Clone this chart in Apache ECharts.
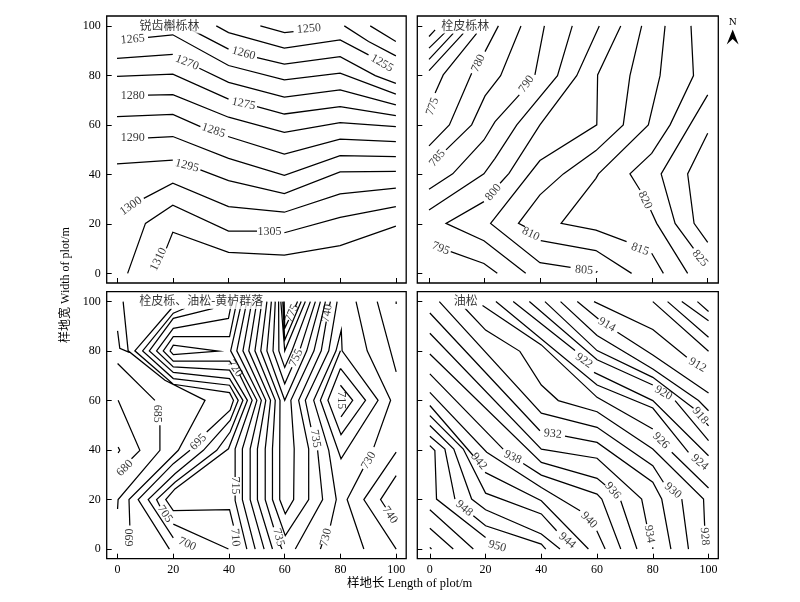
<!DOCTYPE html>
<html><head><meta charset="utf-8">
<style>html,body{margin:0;padding:0;background:#fff}#c{width:800px;height:602px}</style>
<script src="https://cdn.jsdelivr.net/npm/echarts@6/dist/echarts.min.js"></script>
</head><body><div id="c"></div>
<script>
// Sample-plot tick values
const xTicks=[0,20,40,60,80,100];
const yTicks=[0,20,40,60,80,100];
const panelTitles=['锐齿槲栎林','栓皮栎林','栓皮栎、油松-黄栌群落','油松'];
const xName='样地长 Length of plot/m';
const yName='样地宽 Width of plot/m';

// Contour polylines, flat x,y lists in plot metres
const linesA=[
[51.4,100,60.1,97.3,63.3,97.7],
[90.8,100,100,93.7],
[81.5,100,90.2,93.7,100,87.9],
[35.6,100,40,97.3,60,91,80,94.3,90.2,88.3],
[25.7,99,40,90.6],[50.2,87.2,60,84.6,80,87.6,92.6,79.9,100,76.8],
[11.1,95.4,20,96.4,40,84,60,78.2,80,80.9,100,72.4],
[0,86.9,20,88.5],[29.5,82.9,40,77.2,60,71.2,80,74.1,100,68.1],
[0,79.6,20,80.5,40,70.4],[50.2,67.4,60,64.4,80,67.4,100,63.7],
[11.1,72,20,72.2,40,63.1,60,57,80,60.9,100,59.3],
[0,63.3,20,64.2,29.9,59.3],[39.8,55.3,60,48.2,80,54.2,100,53.2],
[11.1,54.7,20,55.3,40,46.5,60,39.6,80,47.6,100,47.2],
[0,44.2,20,45.8],[29.9,41.8,40,37.5,60,32.2,80,41,100,41.2],
[9.6,30.3,20,36.4,40,27,60,24.7,80,32.1,100,34.4],
[3.8,0,10.2,20.2,20,27.5,40,17.1,50.2,17.1],[60,16.4,80,22.6,100,27],
[17.7,10.1,20,16.6,40,8.5,60,7.4,80,11.2,100,19.1]
];
const linesB=[
[0,95.7,2.2,98.4],[0,91,5.7,97.3],[0,86.5,8.7,97],[0,81.9,12.3,97],
[2.2,72.9,5.1,80.2,17.1,97],
[0,51.5,7.3,60,15.3,80.9],[20.1,89.6,24.9,100],
[6.1,49.9,15.3,60,20.1,71.7,25.7,79.9,33,100],
[0,34,8.5,40.2,19.7,53.9,23.7,61.3,32.4,72.1],[38,80.2,41.4,100],
[0,25.6,19.7,40.2,23.7,46.5,31.5,60,46.1,79.9,51.4,100],
[34.7,0,19.7,13.2,6.1,20.2,19.7,29],[25.5,36.4,28.7,40.4,39.8,60,53,79.9,61.1,100],
[50.8,2.4,39.8,4.3,22.1,20.2,39.8,45.6,60.2,60,60.5,80.2,68.8,100],[59.9,0.3,60.4,0.9],
[72.7,0,59.9,9.2,40.1,13.2],[34.4,18.9,32.1,20.2,39.8,31.7,48.2,40.2,59.9,49.6,69.7,60,72.1,79.9,76.3,100],
[84.1,0,79.9,8.1],[70.9,12.8,59.9,17.5,47.4,20.2,59.9,38.4,60.8,40.2,78.7,60,82.9,79.9,84.7,100],
[92.8,0,81.7,20.2,79.5,25.6],[75.7,33.7,72.1,40.2,79.9,48.5,86.5,60,94.9,79.9,94,100],
[94.9,10.1,88.3,20.2,83.3,40.2,100,72.1],
[100,56.6,92.8,40.2,95.1,20.2,100,12.5],
[7.8,8.8,19.7,4,24.5,0]
];
const linesC=[
[2,100,3.8,80.1,17,68.2,31.4,60.1,21.8,39.9,4.1,20,4.4,9.5],
[0,88.2,0.8,81.1,4.2,79.5],
[0,75,13.4,60.1],[15.2,50,15.2,39.9,0.2,20,0,16.2],
[0.2,60.1,8,39.9,5,36.5],
[0.2,41.2,0.8,39.9,0.2,38.8],
[19.4,97.3,6.2,80.1,20,66.6,40.2,63.2,41.6,60.1,40.4,56.1,32,47.3],[26,39.9,20,34.5,7.4,20,18.6,0],
[24.2,97.3,20,95.3,9,80.1,20,68.9,40.2,66.2,43.3,60.1,40.4,52,30.8,39.9,20.6,30.4,11,20,20,4.5],
[34.4,97.3,20,93.2,11.4,80.1,20,71.4,40.2,68.9,45,60.1,40.4,47.3,35.6,39.9,20.6,27,14,20,15.2,17.3],[20,10.1,39.8,0],
[41,100,39.8,93.2,20,89.2,14,80.1,20,73.6,40.2,72.3,46.6,60.1,39.8,40.5,20.6,24.3,17.3,20,20,15.5,40.2,15.9,41.6,9.5],
[42.8,100,40.2,85.8,20,85.8,16.4,80.1,20,75.9,40.2,75.9,41,74.6],[43.8,70.5,48.3,60.1,42.2,40.5,42.2,29.1],[42.2,21.6,42.2,19.6,46.4,0],
[18.8,80.1,20,82.4,36.2,80,20,78.6,18.8,80.1],
[44.6,100,40.6,80.1,50,60.1,44.8,40.5,44.8,20,49.4,0],
[46.4,100,42.8,80.1,51.6,60.1,47.6,40.5,47.6,20,52.6,0],
[48.2,100,45,80.1,53.2,60.1,50.2,40.5,50.2,20,55.6,0],
[50,100,47.1,80.1,54.9,60.1,53,40.5,53,20,56,8.8],[59,0,58.4,1.5],
[51.8,100,49.3,80.1,56.6,60.1,55.6,40.5,55.6,20,60.2,5.4,68.6,20,68.6,40.5,65,60.1,73.1,80.1,74.9,91.9],[76.1,98.6,76.4,100],
[53.6,100,51.4,80.1,58.3,60.1,58.2,40.5,58.2,20,60.2,14.2,63.2,20,63.4,40.5,62.2,60.1,70.5,80.1,74.6,100],
[55.2,100,53.6,80.1,60,60.1,67.9,80.1,72.8,100],
[56.6,100,55.8,80.1,60,66.8,62.6,73.5],[65.6,81.1,71,100],
[57.8,100,57.9,80.1,60,73.4,62.6,80.1,69.2,100],
[58.6,100,60,80.1,67.4,100],
[59.3,100,60,84.5,65.9,100],
[59.8,100,60,89.2,61.4,92.6],[63.8,98,64.6,100],
[63.8,0,73.6,20,71.8,39.9],[69.4,49.3,67.4,60.1,75.8,80.1,78.8,100],
[72.8,0,73.4,2],[76.4,9.5,78.5,20,75.8,39.9,70.4,60.1,78.4,80.1,80.3,88.5,80.6,80.1,93.5,60.1,80.2,36.5,72.8,60.1,80,80.1],
[80,73,89,60.1,80.2,46.2,75.5,60.1,80,73],
[80,66.2,84.4,60.1,80.2,53.4],
[88.4,0,82.4,20,88.1,32.4],[92,41.2,98,60.1,89.6,80.1,85.6,100],
[100,39.2,88.4,20,100,0],
[100,29.7,94.4,20,96.2,16.9],[99.8,11.5,100,11.2],
[93.2,100,100,71.6],[100,100,100,99]
];
const linesD=[
[96,100,100,96],[90.4,100,100,92.3],[85.3,100,100,85.6],[80,100,100,79.9],
[58.9,100,80,88.7,92.2,77.5],
[52.9,100,60.5,93],[67.3,87.6,80,78.4,100,63.1],
[46.9,100,60,86.3,80,72.8,96.4,60,100,55.9],
[41.3,100,60,80.2,80,69.4,94.6,56.9],[99.2,50.9,100,49.8],
[35.7,100,60,76.5,80,66.3],[88,60,100,43.8],
[29.9,100,52.1,80.2],[58.9,71.4,80,60,100,37.7],
[23.7,100,60,66.3,80,57,92.8,39.1],
[18.9,98.4,40,82.5,60,61.3,80,48.5],[86.8,39.1,100,24.7],
[12.6,97.3,20,88.5,32.3,79.9,40,66.3,46.1,60,60,55.5,80,40.4,98.2,20.2,98.6,9.4],
[3.4,100,40,54.9,60,49.2,80,33.7,83.8,27],[90.4,20.2,92.8,0],
[0,95.4,39.5,47.8],[48.5,45.6,60,43.1,80,27,83.2,20.2,86.5,0],
[0,87.2,40,40.4,60,36.7,76,20.2,77.8,10.1],[80,0.7,80,0],
[0,78.8,40,35,60,28.6,62.9,25.9],[68.5,19.5,74.3,0],
[0,70.8,26.3,40.4],[33.5,34.6,40,29.9,60,22.2,61.7,20.2,68.5,0],
[0,63.3,20.4,39.1,40,24.9,53.9,15.5],[59.9,7.4,62.9,0],
[0,58,15.6,37.7],[19.8,31,40,19.5,56.9,0],
[0,53.9,12,40.4,20,22.6,40,14.2,45.5,7.4],
[0,49.9,8.6,40.4,15,20.2,20,15.9,40,6.1,46.7,0],
[0,45.6,5.4,40.4,9,20.2],[15.6,13.5,20,9.4,40,2,41.6,0],
[0,41.8,1.8,39.8,2.4,20.2,20,4.7],
[0,15.9,15.6,0],[0,8.4,8.4,0],[0,0.7,0.6,0]
];

// Contour labels: level, x, y in plot metres
const labelsA=[[1250,68.8,98.8],[1255,95,84.9],[1260,45.4,88.9],[1265,5.6,94.6],[1270,25.1,85.2],[1275,45.4,68.5],[1280,5.6,71.8],[1285,34.6,57.7],[1290,5.6,54.6],[1295,25.1,43.5],[1300,5,27.2],[1305,54.7,16.6],[1310,14.9,5.7]];
const labelsB=[[775,1.3,67.4],[780,17.7,84.9],[785,3,46.5],[790,35,76.5],[795,4.2,10.1],[800,23.1,32.7],[805,55.6,1.3],[810,36.5,15.9],[815,75.7,9.7],[820,77.5,29.6],[825,97.2,6.1]];
const labelsC=[[680,2.6,32.7],[685,14.3,54.7],[690,4.4,4.7],[695,29,43.2],[700,25,2],[705,17,14.2],[710,42.2,4.7],[715,42.2,25.7],[720,42.2,73],[735,57.8,4.7],[735,71,44.6],[730,74.8,4.7],[730,90.2,35.8],[740,97.7,13.8],[740,75.2,95.3],[755,64.1,77.3],[775,62.6,95.3],[715,80.2,60.1]];
const labelsD=[[912,96,74.4],[914,63.5,90.6],[918,97,53.9],[920,83.8,63.1],[922,55.3,76.1],[924,96.8,35],[926,82.9,43.8],[928,98.6,5.1],[930,87.2,23.6],[932,44.1,46.5],[934,78.8,6.1],[936,65.6,23.6],[938,29.7,37.1],[940,57.1,11.7],[942,17.6,35.4],[944,49.3,3.4],[948,12.3,16.4],[950,24.2,1.1]];
const anglesA=[5,-30,-15,5,-22,-12,0,-18,0,-15,35,0,65];
const anglesB=[70,65,50,55,-22,50,-5,-25,-20,-65,-50];
const anglesC=[45,-90,90,45,-25,-55,-85,-90,-55,-75,-80,75,60,-55,80,65,65,-90];
const anglesD=[-30,-30,-50,-30,-35,-40,-45,-85,-40,-5,-80,-50,-25,-45,-50,-40,-40,-15];

const SERIF='"Liberation Serif","Noto Sans CJK SC",serif';
const frames=[
 {left:106.7,top:16,width:299.5,height:267,xMin:-3.7,xMax:103.7,yMin:-3.9,yMax:104,tx:7.9},
 {left:417.3,top:16,width:301,height:267,xMin:-4.2,xMax:103.8,yMin:-3.9,yMax:104,tx:4.2},
 {left:106.7,top:291.7,width:299.5,height:267,xMin:-3.9,xMax:103.6,yMin:-3.9,yMax:104,tx:7.6},
 {left:417.3,top:291.7,width:301,height:267,xMin:-4.5,xMax:103.5,yMin:-3.9,yMax:104,tx:8.4}
];
const allLines=[linesA,linesB,linesC,linesD];
const allLabels=[labelsA,labelsB,labelsC,labelsD];
const allAngles=[anglesA,anglesB,anglesC,anglesD];

const grid=[],xAxis=[],yAxis=[],series=[];
frames.forEach((f,i)=>{
  grid.push({left:f.left,top:f.top,width:f.width,height:f.height,show:true,borderColor:'#000',borderWidth:1.3,backgroundColor:'#fff'});
  const common={type:'value',gridIndex:i,splitLine:{show:false},axisLine:{show:false,onZero:false}};
  const lab=show=>({show,color:'#000',fontFamily:SERIF,fontSize:12,hideOverlap:false,showMinLabel:true,showMaxLabel:true});
  xAxis.push({...common,min:f.xMin,max:f.xMax,
    axisTick:{show:true,inside:true,length:5,lineStyle:{color:'#000',width:1},customValues:xTicks},
    axisLabel:{...lab(i>=2),margin:5,customValues:xTicks}});
  yAxis.push({...common,min:f.yMin,max:f.yMax,
    axisTick:{show:true,inside:true,length:5,lineStyle:{color:'#000',width:1},customValues:yTicks},
    axisLabel:{...lab(i%2===0),margin:6,customValues:yTicks}});
  const pts=[];
  allLines[i].forEach(s=>{
    for(let k=0;k<s.length;k+=2) pts.push([s[k],s[k+1]]);
    pts.push(['-','-']);
  });
  series.push({type:'line',xAxisIndex:i,yAxisIndex:i,data:pts,showSymbol:false,symbol:'none',smooth:false,connectNulls:false,
    lineStyle:{color:'#000',width:1.25,join:'miter'},animation:false,silent:true,z:2});
  series.push({type:'scatter',xAxisIndex:i,yAxisIndex:i,symbolSize:1,itemStyle:{color:'rgba(0,0,0,0)'},animation:false,silent:true,z:3,
    data:allLabels[i].map((l,k)=>({value:[l[1],l[2]],name:String(l[0]),
      label:{show:true,position:'inside',rotate:allAngles[i][k],formatter:String(l[0]),color:'#000',fontFamily:SERIF,fontSize:12}}))});
  series.push({type:'scatter',xAxisIndex:i,yAxisIndex:i,symbolSize:1,itemStyle:{color:'rgba(0,0,0,0)'},animation:false,silent:true,z:4,
    data:[{value:[f.tx,99.8],label:{show:true,position:'right',distance:0,formatter:panelTitles[i],color:'#000',fontFamily:SERIF,fontSize:12,backgroundColor:'#fff',padding:[1,1,1,0]}}]});
});

const option={animation:false,backgroundColor:'#fff',grid,xAxis,yAxis,series,
 graphic:[
  {type:'text',left:347,top:577,style:{text:xName,fill:'#000',font:'12.5px '+SERIF}},
  {type:'text',x:66,y:285,rotation:Math.PI/2,style:{text:yName,fill:'#000',font:'12px '+SERIF,align:'center',verticalAlign:'middle'}},
  {type:'text',x:732.7,y:22.5,style:{text:'N',fill:'#000',font:'11px '+SERIF,align:'center',verticalAlign:'middle'}},
  {type:'polygon',shape:{points:[[732.7,29.5],[738.6,44.5],[732.7,39],[726.7,44.5]]},style:{fill:'#000'}}
 ]};
echarts.init(document.getElementById('c'),null,{renderer:'canvas'}).setOption(option);
</script></body></html>
